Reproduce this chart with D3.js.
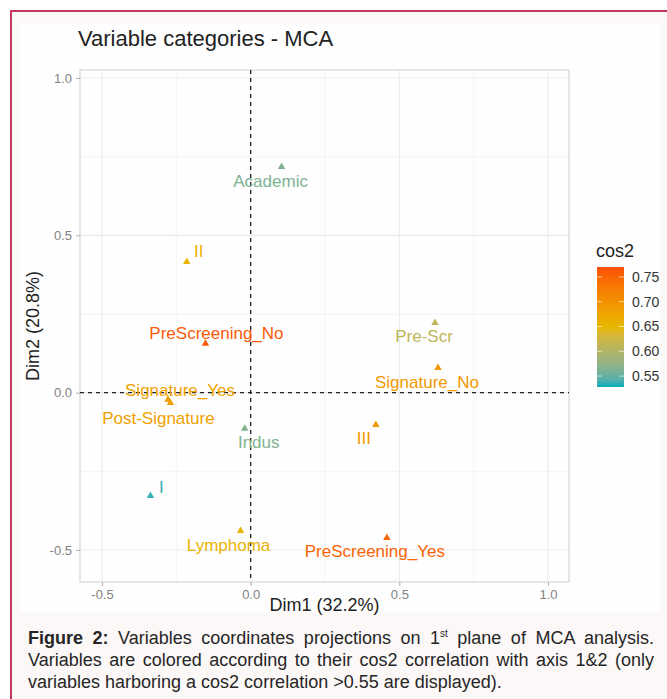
<!DOCTYPE html>
<meta charset="utf-8">
<style>
    body {
        margin: 0;
        background-color: #ffffff;
        font-family: "Liberation Sans", Arial, sans-serif;
    }
    #frame {
        position: absolute;
        left: 10px;
        top: 10px;
        width: 680px;
        height: 700px;
        border-left: 2px solid #c4365f;
        border-top: 2px solid #c4365f;
        background-color: #fcf8f8;
    }
    svg {
        position: absolute;
        left: 0;
        top: 0;
    }
    #caption {
        position: absolute;
        left: 28px;
        top: 627px;
        width: 626px;
        font-size: 18px;
        line-height: 22px;
        color: #262626;
    }
    #caption div {
        white-space: nowrap;
    }
    #caption .full {
        text-align: justify;
        text-align-last: justify;
    }
    #caption sup {
        font-size: 10px;
        line-height: 0;
    }
</style>

<script src="https://d3js.org/d3.v7.min.js"></script>

<div id="frame"></div>
<svg id="chart" width="667" height="699"></svg>
<div id="caption">
    <div class="full"><b>Figure 2:</b> Variables coordinates projections on 1<sup>st</sup> plane of MCA analysis.</div>
    <div class="full">Variables are colored according to their cos2 correlation with axis 1&amp;2 (only</div>
    <div>variables harboring a cos2 correlation &gt;0.55 are displayed).</div>
</div>

<script>

// Data

var categories = ['Academic', 'II', 'PreScreening_No', 'Signature_Yes', 'Post-Signature',
                  'Indus', 'I', 'Lymphoma', 'PreScreening_Yes', 'Pre-Scr', 'Signature_No', 'III'];
var dim1 = [0.104, -0.215, -0.152, -0.278, -0.27, -0.02, -0.337, -0.034, 0.458, 0.62, 0.63, 0.421];
var dim2 = [0.718, 0.416, 0.156, -0.022, -0.032, -0.114, -0.328, -0.439, -0.461, 0.222, 0.079, -0.102];
var cos2 = [0.562, 0.655, 0.76, 0.68, 0.68, 0.565, 0.535, 0.655, 0.75, 0.61, 0.69, 0.69];

// label offsets (pixels) as placed by the repel step in the original
var labelDx = [-11, 12, 11, 12, -12, 14, 11, -12, -12, -11, -11, -12];
var labelDy = [14, -11, -11, -10, 15, 14, -9, 14, 13, 13, 14, 13];

var xTicks = [-0.5, 0.0, 0.5, 1.0];
var yTicks = [-0.5, 0.0, 0.5, 1.0];
var legendTicks = [0.55, 0.60, 0.65, 0.70, 0.75];
var gradientCols = ['#00AFBB', '#E7B800', '#FC4E07'];


// Setup

var svg = d3.select('svg#chart');

var panel = { left: 80, right: 569, top: 70, bottom: 582 };

var x = d3.scaleLinear().domain([-0.5, 1.0]).range([102, 548]);
var y = d3.scaleLinear().domain([-0.5, 1.0]).range([550, 78]);

var cosExtent = [0.528, 0.77];
var color = d3.scaleLinear()
    .domain([cosExtent[0], (cosExtent[0] + cosExtent[1]) / 2, cosExtent[1]])
    .range(gradientCols)
    .interpolate(d3.interpolateLab);

var fmt = function(d) { return d3.format('.1f')(d).replace('−', '-'); };

// light backdrop of the figure image
svg.append('rect')
    .attr('x', 20).attr('y', 24)
    .attr('width', 640).attr('height', 588)
    .attr('fill', '#fefefe');

// minor grid
var minorX = d3.range(-0.75, 1.01, 0.5).filter(function(v) { return x(v) > panel.left && x(v) < panel.right; });
var minorY = d3.range(-0.75, 1.01, 0.5).filter(function(v) { return y(v) > panel.top && y(v) < panel.bottom; });

svg.append('g').selectAll('line')
    .data(minorX).enter().append('line')
    .attr('x1', x).attr('x2', x)
    .attr('y1', panel.top).attr('y2', panel.bottom)
    .attr('stroke', '#f3f3f3').attr('stroke-width', 0.8);

svg.append('g').selectAll('line')
    .data(minorY).enter().append('line')
    .attr('y1', y).attr('y2', y)
    .attr('x1', panel.left).attr('x2', panel.right)
    .attr('stroke', '#f3f3f3').attr('stroke-width', 0.8);

// major grid
svg.append('g').selectAll('line')
    .data(xTicks).enter().append('line')
    .attr('x1', x).attr('x2', x)
    .attr('y1', panel.top).attr('y2', panel.bottom)
    .attr('stroke', '#ebebeb').attr('stroke-width', 1.1);

svg.append('g').selectAll('line')
    .data(yTicks).enter().append('line')
    .attr('y1', y).attr('y2', y)
    .attr('x1', panel.left).attr('x2', panel.right)
    .attr('stroke', '#ebebeb').attr('stroke-width', 1.1);

// panel border
svg.append('rect')
    .attr('x', panel.left).attr('y', panel.top)
    .attr('width', panel.right - panel.left)
    .attr('height', panel.bottom - panel.top)
    .attr('fill', 'none')
    .attr('stroke', '#d6d6d6')
    .attr('stroke-width', 1.2);

// axes
var xAxis = d3.axisBottom(x).tickValues(xTicks).tickFormat(fmt).tickSize(4).tickPadding(4);
var yAxis = d3.axisLeft(y).tickValues(yTicks).tickFormat(fmt).tickSize(4).tickPadding(4);

var gx = svg.append('g').attr('transform', 'translate(0,' + panel.bottom + ')').call(xAxis);
var gy = svg.append('g').attr('transform', 'translate(' + panel.left + ',0)').call(yAxis);

[gx, gy].forEach(function(g) {
    g.select('.domain').remove();
    g.selectAll('.tick line').attr('stroke', '#b0b0b0');
    g.selectAll('.tick text')
        .attr('fill', '#828282')
        .style('font-family', '"Liberation Sans", Arial, sans-serif')
        .style('font-size', '13px');
});

// dashed reference lines
svg.append('line')
    .attr('x1', x(0)).attr('x2', x(0))
    .attr('y1', panel.top).attr('y2', panel.bottom)
    .attr('stroke', '#222').attr('stroke-width', 1.3)
    .attr('stroke-dasharray', '4,4');

svg.append('line')
    .attr('x1', panel.left).attr('x2', panel.right)
    .attr('y1', y(0)).attr('y2', y(0))
    .attr('stroke', '#222').attr('stroke-width', 1.3)
    .attr('stroke-dasharray', '4,4');

// points
var rows = categories.map(function(c, i) {
    return { name: c, x: dim1[i], y: dim2[i], cos2: cos2[i], dx: labelDx[i], dy: labelDy[i] };
});

svg.append('g').selectAll('path')
    .data(rows).enter().append('path')
    .attr('d', d3.symbol().type(d3.symbolTriangle).size(24))
    .attr('transform', function(d) { return 'translate(' + x(d.x) + ',' + y(d.y) + ')'; })
    .attr('fill', function(d) { return color(d.cos2); });

svg.append('g').selectAll('text')
    .data(rows).enter().append('text')
    .attr('x', function(d) { return x(d.x) + d.dx; })
    .attr('y', function(d) { return y(d.y) + d.dy; })
    .attr('dy', '0.35em')
    .attr('text-anchor', 'middle')
    .attr('fill', function(d) { return color(d.cos2); })
    .style('font-size', '17px')
    .text(function(d) { return d.name; });

// title and axis titles
svg.append('text')
    .attr('x', 78).attr('y', 46)
    .attr('fill', '#222')
    .style('font-size', '22px')
    .text('Variable categories - MCA');

svg.append('text')
    .attr('x', (panel.left + panel.right) / 2).attr('y', 611)
    .attr('text-anchor', 'middle')
    .attr('fill', '#222')
    .style('font-size', '18px')
    .text('Dim1 (32.2%)');

svg.append('text')
    .attr('transform', 'translate(39,' + (panel.top + panel.bottom) / 2 + ') rotate(-90)')
    .attr('text-anchor', 'middle')
    .attr('fill', '#222')
    .style('font-size', '18px')
    .text('Dim2 (20.8%)');

// colour legend
var legend = { x: 597, width: 27, top: 267, bottom: 387 };
var legendY = d3.scaleLinear().domain(cosExtent).range([legend.bottom, legend.top]);

var grad = svg.append('defs').append('linearGradient')
    .attr('id', 'cosGrad')
    .attr('x1', 0).attr('x2', 0).attr('y1', 1).attr('y2', 0);

grad.selectAll('stop')
    .data(d3.range(0, 1.001, 0.05)).enter().append('stop')
    .attr('offset', function(d) { return d; })
    .attr('stop-color', function(d) { return color(cosExtent[0] + d * (cosExtent[1] - cosExtent[0])); });

svg.append('rect')
    .attr('x', legend.x).attr('y', legend.top)
    .attr('width', legend.width).attr('height', legend.bottom - legend.top)
    .attr('fill', 'url(#cosGrad)');

svg.append('g').selectAll('line')
    .data(legendTicks).enter().append('line')
    .attr('x1', legend.x).attr('x2', legend.x + 5)
    .attr('y1', legendY).attr('y2', legendY)
    .attr('stroke', '#ffffff').attr('stroke-opacity', 0.6);

svg.append('g').selectAll('line')
    .data(legendTicks).enter().append('line')
    .attr('x1', legend.x + legend.width - 5).attr('x2', legend.x + legend.width)
    .attr('y1', legendY).attr('y2', legendY)
    .attr('stroke', '#ffffff').attr('stroke-opacity', 0.6);

svg.append('g').selectAll('text')
    .data(legendTicks).enter().append('text')
    .attr('x', legend.x + legend.width + 8)
    .attr('y', legendY)
    .attr('dy', '0.35em')
    .attr('fill', '#333')
    .style('font-size', '14px')
    .text(d3.format('.2f'));

svg.append('text')
    .attr('x', legend.x - 1).attr('y', 257)
    .attr('fill', '#222')
    .style('font-size', '18px')
    .text('cos2');

</script>
